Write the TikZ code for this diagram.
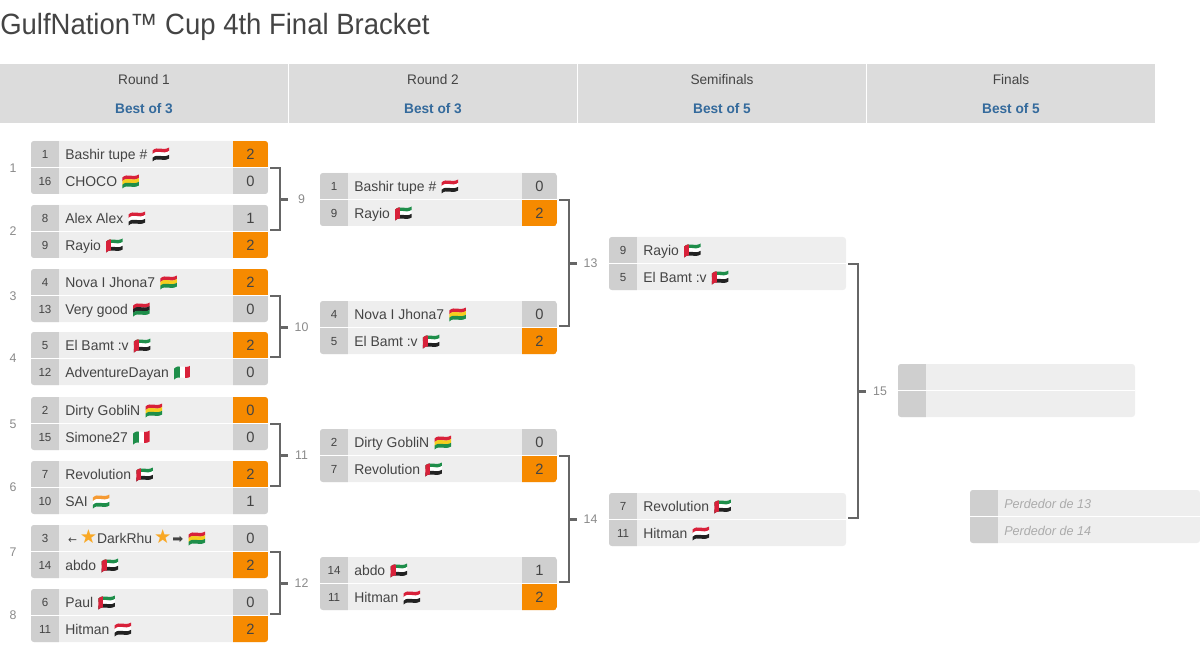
\documentclass[tikz,border=0pt]{standalone}
\usepackage{fontspec}
\setmainfont[FakeStretch=0.985]{Liberation Sans}
\newfontfamily\titlef[FakeStretch=0.937]{Liberation Sans}
\newfontfamily\djv{DejaVu Sans}
\usetikzlibrary{calc}
\definecolor{rowbg}{HTML}{EEEEEE}
\definecolor{seedbg}{HTML}{CFCFCF}
\definecolor{headbg}{HTML}{DCDCDC}
\definecolor{orng}{HTML}{F68A00}
\definecolor{ink}{HTML}{444444}
\definecolor{bluet}{HTML}{346A9C}
\definecolor{conn}{HTML}{666666}
\definecolor{labc}{HTML}{8A8A8A}
\definecolor{ghost}{HTML}{ABABAB}
\definecolor{fred}{HTML}{D8213A}
\definecolor{fgreen}{HTML}{1E8E4A}
\definecolor{fyellow}{HTML}{F5CE1E}
\definecolor{fblack}{HTML}{222222}
\definecolor{forange}{HTML}{F59A33}
\definecolor{starc}{HTML}{F9A825}
\newcommand\px[1]{#1*0.75pt}
\newcommand\fsz[1]{\fontsize{#1}{#1}\selectfont}
\tikzset{
  x=0.75pt,y=-0.75pt,
  framebox/.style={fill=rowbg,rounded corners=2.2pt,inner sep=0,minimum height={\px{53}}},
  seedbox/.style={fill=seedbg,inner sep=0,minimum width={\px{28}},minimum height={\px{27}},text=ink,font=\fsz{8.8}},
  scorebox/.style={inner sep=0,minimum width={\px{35}},minimum height={\px{27}},text=ink,font=\fsz{11.2}},
  nametext/.style={inner sep=0,anchor=base west,text=ink,font=\fsz{10.6}},
  ghosttext/.style={inner sep=0,anchor=base west,text=ghost,font=\fsz{9.6}\itshape},
  conline/.style={draw=conn,line width=1.8pt},
  roundno/.style={inner sep=0,text=labc,font=\fsz{9.4}},
  joinno/.style={inner sep=0,text=labc,font=\fsz{9.4},minimum width={\px{27}}},
  headbox/.style={fill=headbg,inner sep=0,minimum width={\px{288}},minimum height={\px{59}}},
  headtext/.style={inner sep=0,text=ink,font=\fsz{10.4}},
  headbest/.style={inner sep=0,text=bluet,font=\fsz{10.4}\bfseries},
}
% one waved stripe between heights #2 and #3
\newcommand\stripe[3]{\fill[#1] (0,#2+1.5) .. controls (5,#2-3.5) and (10,#2+2.5) .. (16.5,#2-1.5) -- (16.5,#3-1.5) .. controls (10,#3+2.5) and (5,#3-3.5) .. (0,#3+1.5) -- cycle;}
\newcommand\flclip{\clip (0,-5.5+1.5) .. controls (5,-5.5-3.5) and (10,-5.5+2.5) .. (16.5,-5.5-1.5) -- (16.5,5.5-1.5) .. controls (10,5.5+2.5) and (5,5.5-3.5) .. (0,5.5+1.5) -- cycle;}
\newcommand\flthree[3]{\stripe{#1}{-5.5}{-1.8}\stripe{#2}{-1.9}{1.9}\stripe{#3}{1.8}{5.5}}
\newcommand\fleg{\flthree{fred}{white}{fblack}}
\newcommand\flbo{\flthree{fred}{fyellow}{fgreen}}
\newcommand\flly{\flthree{fred}{fblack}{fgreen}}
\newcommand\flin{\flthree{forange}{white}{fgreen}}
\newcommand\flae{\flthree{fgreen}{white}{fblack}\begin{scope}\flclip\fill[fred] (-1,-9) rectangle (5,9);\end{scope}}
\newcommand\flit{\begin{scope}\flclip\fill[fgreen] (-1,-9) rectangle (5.5,9);\fill[white] (5.5,-9) rectangle (10.5,9);\fill[fred] (10.5,-9) rectangle (17,9);\end{scope}}
\newcommand\flno{}
% frame of a match: id, left, top, width
\newcommand\mframe[4]{\node[framebox,minimum width={\px{#4}}] (#1) at (#2+#4/2,#3+26.5) {};
  \gdef\mx{#2}\gdef\my{#3}\gdef\mw{#4}}
% row of a match: id, row (1/2), seed, name, flag, score, score colour
\newcommand\mrow[7]{%
  \ifnum#2=1 \gdef\ry{13.5}\else\gdef\ry{40.5}\fi
  \begin{scope}
    \clip[rounded corners=2.2pt] (\mx,\my) rectangle ++(\mw,53);
    \node[seedbox] (#1s#2) at (\mx+14,\my+\ry) {#3};
    \node[scorebox,fill=#7] (#1p#2) at (\mx+\mw-17.5,\my+\ry) {#6};
  \end{scope}
  \node[nametext] (#1n#2) at (\mx+34,\my+\ry+5) {#4};
  \begin{scope}[shift={($(#1n#2.east |- #1s#2.center)+(5,0)$)}]\csname fl#5\endcsname\end{scope}
  \fill[white] (\mx,\my+26) rectangle ++(\mw,1);
}
% row with no score box: id, row, seed, name, flag
\newcommand\nrow[6][nametext]{%
  \ifnum#3=1 \gdef\ry{13.5}\else\gdef\ry{40.5}\fi
  \begin{scope}
    \clip[rounded corners=2.2pt] (\mx,\my) rectangle ++(\mw,53);
    \node[seedbox] (#2s#3) at (\mx+14,\my+\ry) {#4};
  \end{scope}
  \node[#1] (#2n#3) at (\mx+34,\my+\ry+5) {#5};
  \begin{scope}[shift={($(#2n#3.east |- #2s#3.center)+(5,0)$)}]\csname fl#6\endcsname\end{scope}
  \fill[white] (\mx,\my+26) rectangle ++(\mw,1);
}
% bracket: top match, bottom match, vertical x, label x, label y, label
\newcommand\bracket[6]{%
  \node[joinno] (j#6) at (#4,#5) {#6};
  \coordinate (v#6) at (#3,#5);
  \draw[conline] ($(#1.east)+(2,0.5)$) -| (v#6) |- ($(#2.east)+(2,-1.5)$);
  \draw[conline] (v#6) -- (j#6.west);
}
\begin{document}
\begin{tikzpicture}
\useasboundingbox (0,0) rectangle (1200,656);
\node[inner sep=0,anchor=base west,text=ink,font=\titlef\fsz{22}] (title) at (0,35) {GulfNation™ Cup 4th Final Bracket};
\node[headbox] (h1) at (144,93.5) {};
\node[headbox] (h2) at (433,93.5) {};
\node[headbox] (h3) at (722,93.5) {};
\node[headbox] (h4) at (1011,93.5) {};
\node[headtext] (h1a) at (144,79.5) {Round 1};
\node[headtext] (h2a) at (433,79.5) {Round 2};
\node[headtext] (h3a) at (722,79.5) {Semifinals};
\node[headtext] (h4a) at (1011,79.5) {Finals};
\node[headbest] (h1b) at (144,109) {Best of 3};
\node[headbest] (h2b) at (433,109) {Best of 3};
\node[headbest] (h3b) at (722,109) {Best of 5};
\node[headbest] (h4b) at (1011,109) {Best of 5};
% round numbers
\foreach \n/\yy in {1/168,2/231,3/296,4/358,5/424,6/487,7/552,8/615}
  \node[roundno] (r\n) at (13,\yy) {\n};
% Round 1
\mframe{m1}{31}{141}{237}
\mrow{m1}{1}{1}{Bashir tupe \#}{eg}{2}{orng}
\mrow{m1}{2}{16}{CHOCO}{bo}{0}{seedbg}
\mframe{m2}{31}{205}{237}
\mrow{m2}{1}{8}{Alex Alex}{eg}{1}{seedbg}
\mrow{m2}{2}{9}{Rayio}{ae}{2}{orng}
\mframe{m3}{31}{269}{237}
\mrow{m3}{1}{4}{Nova I Jhona7}{bo}{2}{orng}
\mrow{m3}{2}{13}{Very good}{ly}{0}{seedbg}
\mframe{m4}{31}{332}{237}
\mrow{m4}{1}{5}{El Bamt :v}{ae}{2}{orng}
\mrow{m4}{2}{12}{AdventureDayan}{it}{0}{seedbg}
\mframe{m5}{31}{397}{237}
\mrow{m5}{1}{2}{Dirty GobliN}{bo}{0}{orng}
\mrow{m5}{2}{15}{Simone27}{it}{0}{seedbg}
\mframe{m6}{31}{461}{237}
\mrow{m6}{1}{7}{Revolution}{ae}{2}{orng}
\mrow{m6}{2}{10}{SAI}{in}{1}{seedbg}
\mframe{m7}{31}{525}{237}
\mrow{m7}{1}{3}{\hspace{2.2pt}{\djv\fsz{8}←}\hspace{2pt}{\djv\fsz{14.5}\color{starc}★}DarkRhu\hspace{1.5pt}{\djv\fsz{14.5}\color{starc}★}\hspace{0.8pt}{\djv\fsz{9.8}➡}}{bo}{0}{seedbg}
\mrow{m7}{2}{14}{abdo}{ae}{2}{orng}
\mframe{m8}{31}{589}{237}
\mrow{m8}{1}{6}{Paul}{ae}{0}{seedbg}
\mrow{m8}{2}{11}{Hitman}{eg}{2}{orng}
% Round 2
\mframe{m9}{320}{173}{237}
\mrow{m9}{1}{1}{Bashir tupe \#}{eg}{0}{seedbg}
\mrow{m9}{2}{9}{Rayio}{ae}{2}{orng}
\mframe{m10}{320}{301}{237}
\mrow{m10}{1}{4}{Nova I Jhona7}{bo}{0}{seedbg}
\mrow{m10}{2}{5}{El Bamt :v}{ae}{2}{orng}
\mframe{m11}{320}{429}{237}
\mrow{m11}{1}{2}{Dirty GobliN}{bo}{0}{seedbg}
\mrow{m11}{2}{7}{Revolution}{ae}{2}{orng}
\mframe{m12}{320}{557}{237}
\mrow{m12}{1}{14}{abdo}{ae}{1}{seedbg}
\mrow{m12}{2}{11}{Hitman}{eg}{2}{orng}
% Semifinals
\mframe{m13}{609}{237}{237}
\nrow{m13}{1}{9}{Rayio}{ae}
\nrow{m13}{2}{5}{El Bamt :v}{ae}
\mframe{m14}{609}{493}{237}
\nrow{m14}{1}{7}{Revolution}{ae}
\nrow{m14}{2}{11}{Hitman}{eg}
% Finals
\mframe{m15}{898}{364}{237}
\nrow{m15}{1}{}{}{no}
\nrow{m15}{2}{}{}{no}
\mframe{m16}{970}{490}{230}
\nrow[ghosttext]{m16}{1}{}{Perdedor de 13}{no}
\nrow[ghosttext]{m16}{2}{}{Perdedor de 14}{no}
% connectors
\bracket{m1}{m2}{280}{301.5}{199.5}{9}
\bracket{m3}{m4}{280}{301.5}{327.5}{10}
\bracket{m5}{m6}{280}{301.5}{455.5}{11}
\bracket{m7}{m8}{280}{301.5}{583.5}{12}
\bracket{m9}{m10}{569}{590.5}{263.5}{13}
\bracket{m11}{m12}{569}{590.5}{519.5}{14}
\bracket{m13}{m14}{858}{880}{391.5}{15}
\end{tikzpicture}
\end{document}
